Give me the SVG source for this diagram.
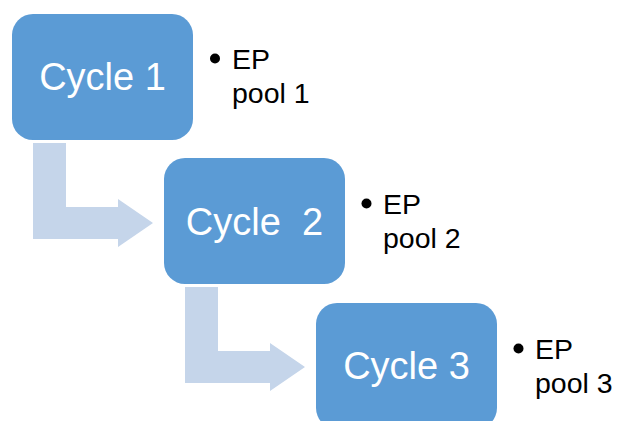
<svg xmlns="http://www.w3.org/2000/svg" width="617" height="421" viewBox="0 0 617 421">
<style>
.box{fill:#5B9BD5;}
.arrow{fill:#C5D5EA;}
.cyc{font-family:"Liberation Sans",Arial,sans-serif;font-size:38px;fill:#ffffff;text-anchor:middle;}
.lbl{font-family:"Liberation Sans",Arial,sans-serif;font-size:28.5px;fill:#000000;}
</style>
<rect width="617" height="421" fill="#ffffff"/>
<g id="connectors">
<polygon class="arrow" points="33,143 66,143 66,207 118,207 118,199 153,223 118,247 118,239 33,239"/>
<polygon class="arrow" points="185,287 218,287 218,351 270,351 270,343 305,367 270,391 270,383 185,383"/>
</g>
<g id="cycle1">
<rect class="box" x="12" y="14" width="181" height="126" rx="21" ry="21"/>
<text class="cyc" x="102.5" y="90">Cycle 1</text>
</g>
<g id="label1">
<circle cx="215" cy="58.5" r="5" fill="#000"/>
<text class="lbl" x="232" y="69">EP</text>
<text class="lbl" x="232" y="103">pool 1</text>
</g>
<g id="cycle2">
<rect class="box" x="164" y="158" width="181" height="126" rx="21" ry="21"/>
<text class="cyc" x="254.5" y="235" xml:space="preserve">Cycle  2</text>
</g>
<g id="label2">
<circle cx="366.5" cy="203.5" r="5" fill="#000"/>
<text class="lbl" x="383" y="214">EP</text>
<text class="lbl" x="383" y="248">pool 2</text>
</g>
<g id="cycle3">
<rect class="box" x="316" y="303" width="181" height="126" rx="21" ry="21"/>
<text class="cyc" x="406.5" y="379">Cycle 3</text>
</g>
<g id="label3">
<circle cx="518.5" cy="348.5" r="5" fill="#000"/>
<text class="lbl" x="535" y="359">EP</text>
<text class="lbl" x="535" y="393">pool 3</text>
</g>
</svg>
